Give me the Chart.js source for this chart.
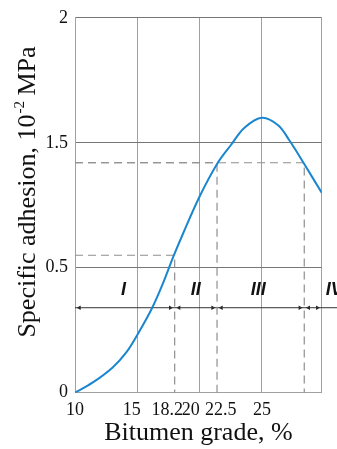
<!DOCTYPE html>
<html>
<head>
<meta charset="utf-8">
<script src="https://cdn.jsdelivr.net/npm/chart.js@4.4.1/dist/chart.umd.min.js"></script>
<style>
  html, body { margin: 0; padding: 0; background: #fff; }
  #wrap { width: 337px; height: 449px; }
</style>
</head>
<body>
<div id="wrap"><canvas id="chartAdhesion"></canvas></div>
<script>
// Courbe : teneur en bitume (%) et adhésion spécifique (10^-2 MPa)
const grade = [10, 11.4, 13.0, 14.1, 15.1, 16.2, 17.0, 17.9, 18.7, 20.0, 21.4, 22.5, 23.6, 25.0, 26.3, 27.2, 28.4, 29.8];
const adhesion = [0, 0.04, 0.10, 0.16, 0.24, 0.34, 0.43, 0.59, 0.78, 1.07, 1.33, 1.48, 1.56, 1.60, 1.57, 1.51, 1.33, 1.10];

// Graduations (l'axe Y de la figure est gradué 0 / 0.5 / 1.5 / 2 à pas égal)
const yTickLabels = [0, 0.5, 1.5, 2];
const xTickLabels = ["10", "15", "18.2", "20", "22.5", "25"];
const xLabelAt = [10, 14.55, 17.4, 19.3, 21.7, 25];

// Limites des zones I..IV et niveaux des pointillés
const zoneBounds = [18.0, 21.4, 28.4];
const guideLevels = [0.6, 1.34, 1.34];
const zoneNames = ["I", "II", "III", "IV"];
const zoneAt = [13.9, 19.7, 24.7, 30.8];
const zoneLabelLevel = 0.41;
const arrowLevel = 0.34;

const xMin = 10, xMax = 29.8;

// position sur l'axe (pas égal entre graduations)
function toPos(v) {
  for (let i = 0; i < yTickLabels.length - 1; i++) {
    const a = yTickLabels[i], b = yTickLabels[i + 1];
    if (v <= b || i === yTickLabels.length - 2) return i + (v - a) / (b - a);
  }
}

const curve = grade.map((g, i) => ({ x: g, y: toPos(adhesion[i]) }));

const guideSets = zoneBounds.map((b, i) => ({
  type: "line",
  data: [{ x: xMin, y: toPos(guideLevels[i]) }, { x: b, y: toPos(guideLevels[i]) }, { x: b, y: 0 }],
  borderColor: "#8e8e8e",
  borderWidth: 1.2,
  borderDash: [8, 5],
  pointRadius: 0,
  tension: 0
}));

const arrowHeads = [{ x: xMin + 0.35, r: -90 }, { x: xMax - 0.35, r: 90 }];
zoneBounds.forEach(b => {
  arrowHeads.push({ x: b - 0.35, r: 90 });
  arrowHeads.push({ x: b + 0.35, r: -90 });
});

const serif = "'Liberation Serif', 'Times New Roman', serif";

const zoneLabels = {
  id: "zoneLabels",
  afterDatasetsDraw(chart) {
    const { ctx, scales } = chart;
    ctx.save();
    ctx.fillStyle = "#111";
    ctx.font = "italic bold 18px 'Liberation Sans', sans-serif";
    ctx.textAlign = "center";
    ctx.textBaseline = "middle";
    zoneNames.forEach((n, i) => {
      ctx.fillText(n, scales.x.getPixelForValue(zoneAt[i]), scales.y.getPixelForValue(toPos(zoneLabelLevel)));
    });
    ctx.restore();
  }
};

const yTitle = {
  id: "yTitle",
  afterDraw(chart) {
    const ctx = chart.ctx;
    const main = "Specific adhesion, 10", sup = "-2", tail = " MPa";
    ctx.save();
    ctx.translate(28, 192);
    ctx.rotate(-Math.PI / 2);
    ctx.fillStyle = "#111";
    ctx.textBaseline = "middle";
    ctx.font = "26px " + serif;
    const w1 = ctx.measureText(main).width, w3 = ctx.measureText(tail).width;
    ctx.font = "15px " + serif;
    const w2 = ctx.measureText(sup).width;
    let x = -(w1 + w2 + w3) / 2;
    ctx.font = "26px " + serif;
    ctx.fillText(main, x, 0);
    x += w1;
    ctx.font = "15px " + serif;
    ctx.fillText(sup, x + 1, -8);
    x += w2;
    ctx.font = "26px " + serif;
    ctx.fillText(tail, x, 0);
    ctx.restore();
  }
};

const ctxAdh = document.getElementById("chartAdhesion").getContext("2d");

const chartAdh = new Chart(ctxAdh, {
  type: "line",
  data: {
    datasets: [
      {
        data: curve,
        borderColor: "#1a86cf",
        borderWidth: 2,
        pointRadius: 0,
        tension: 0.35
      },
      ...guideSets,
      {
        data: [{ x: xMin, y: toPos(arrowLevel) }, { x: 31.3, y: toPos(arrowLevel) }],
        borderColor: "#333",
        borderWidth: 1,
        pointRadius: 0,
        clip: false
      },
      {
        type: "scatter",
        data: arrowHeads.map(a => ({ x: a.x, y: toPos(arrowLevel) })),
        pointStyle: "triangle",
        pointRadius: 2.6,
        pointRotation: arrowHeads.map(a => a.r),
        backgroundColor: "#222",
        borderColor: "#222",
        borderWidth: 0,
        showLine: false
      }
    ]
  },
  options: {
    responsive: true,
    maintainAspectRatio: false,
    animation: false,
    layout: { padding: { top: 15, right: 15.3, bottom: 0, left: 0 } },
    plugins: { legend: { display: false }, tooltip: { enabled: false } },
    scales: {
      x: {
        type: "linear",
        min: xMin,
        max: xMax,
        ticks: { stepSize: 5, display: false },
        grid: { color: "#a0a0a0", drawTicks: false },
        border: { color: "#a0a0a0" },
        afterFit: s => { s.height = 0; }
      },
      x2: {
        type: "linear",
        position: "bottom",
        min: xMin,
        max: xMax,
        afterBuildTicks: s => { s.ticks = xLabelAt.map(v => ({ value: v })); },
        ticks: {
          autoSkip: false,
          maxRotation: 0,
          padding: 7,
          color: "#111",
          font: { family: serif, size: 18 },
          callback: (v, i) => xTickLabels[i]
        },
        grid: { display: false, drawTicks: false },
        border: { display: false },
        title: {
          display: true,
          text: "Bitumen grade, %",
          color: "#111",
          font: { family: serif, size: 26 },
          padding: { top: 0, bottom: 0 }
        },
        afterFit: s => { s.height = 56.3; }
      },
      y: {
        type: "linear",
        min: 0,
        max: 3,
        ticks: {
          stepSize: 1,
          padding: 7,
          color: "#111",
          font: { family: serif, size: 18 },
          callback: v => String(yTickLabels[v])
        },
        grid: { color: "#777", drawTicks: false },
        border: { color: "#a0a0a0" },
        afterFit: s => { s.width = 75; }
      }
    }
  },
  plugins: [zoneLabels, yTitle]
});
</script>
</body>
</html>
